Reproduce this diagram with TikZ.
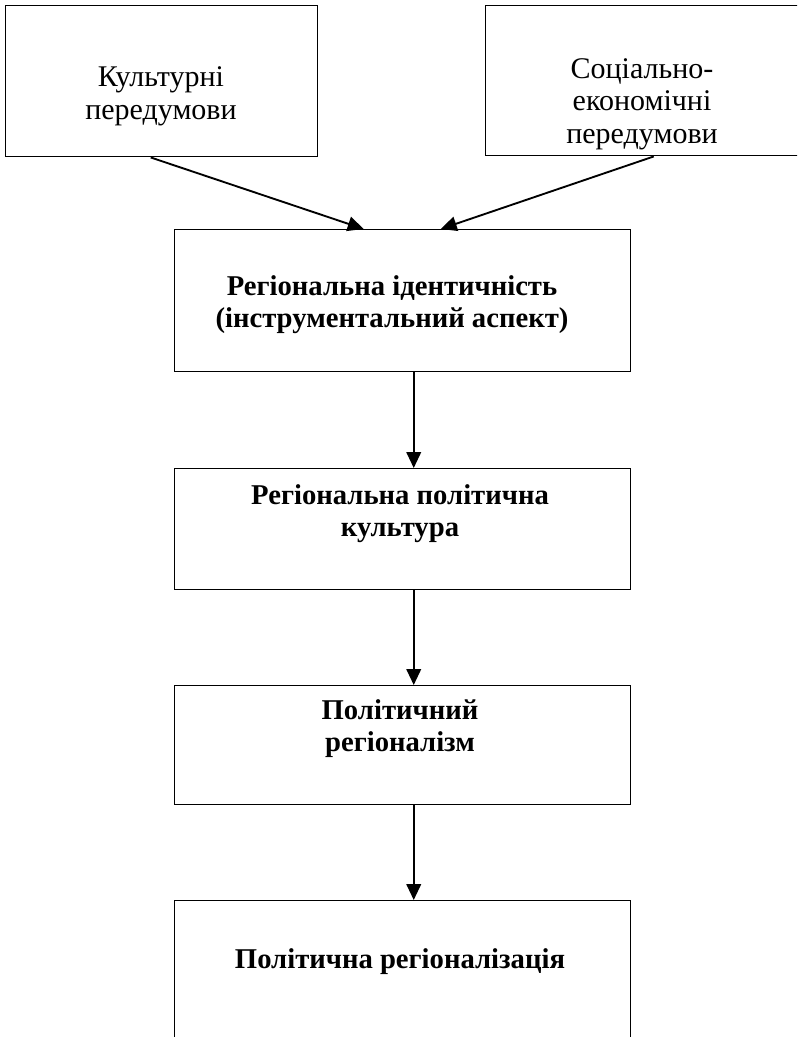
\documentclass[tikz,border=0pt]{standalone}
\usepackage{fontspec}
\setmainfont{Liberation Serif}
\usetikzlibrary{arrows.meta}
\tikzset{
  box/.style={draw, line width=1.1pt, inner sep=0pt, minimum width=#1, anchor=north west},
  reg/.style={align=center, font=\fontsize{22.5pt}{24.5pt}\selectfont},
  bld/.style={align=center, font=\fontsize{21.5pt}{24pt}\selectfont\bfseries},
  arr/.style={line width=1.4pt, -{Triangle[length=12pt,width=11pt]}}
}
\begin{document}
\begin{tikzpicture}[x=0.75pt,y=-0.75pt]
\useasboundingbox (0,0) rectangle (797,1037);
\clip (0,0) rectangle (797,1037);
% boxes (px coordinates, y downwards)
\node[box=234pt, minimum height=113.25pt] (b1) at (5,5) {};
\node[box=235.5pt, minimum height=112.5pt] (b2) at (485,5) {};
\node[box=342pt, minimum height=106.5pt] (b3) at (174,229) {};
\node[box=342pt, minimum height=90.75pt] (b4) at (174,468) {};
\node[box=342pt, minimum height=89.25pt] (b5) at (174,685) {};
\node[box=342pt, minimum height=120pt] (b6) at (174,900) {};
% texts
\node[reg] (t1) at (161,96) {Культурні\\передумови};
\node[reg] (t2) at (642,104) {Соціально-\\економічні\\передумови};
\node[bld] (t3) at (392,305) {Регіональна ідентичність\\(інструментальний аспект)};
\node[bld] (t4) at (400,514) {Регіональна політична\\культура};
\node[bld] (t5) at (400,729) {Політичний\\регіоналізм};
\node[bld] (t6) at (400,962) {Політична регіоналізація};
% connectors
\draw[arr] ([xshift=-8.25pt]b1.south) -- ([xshift=-29.25pt]b3.north);
\draw[arr] ([xshift=8.25pt]b2.south) -- ([xshift=28.5pt]b3.north);
\draw[arr] ([xshift=8.25pt]b3.south) -- ([xshift=8.25pt]b4.north);
\draw[arr] ([xshift=8.25pt]b4.south) -- ([xshift=8.25pt]b5.north);
\draw[arr] ([xshift=8.25pt]b5.south) -- ([xshift=8.25pt]b6.north);
\end{tikzpicture}
\end{document}
